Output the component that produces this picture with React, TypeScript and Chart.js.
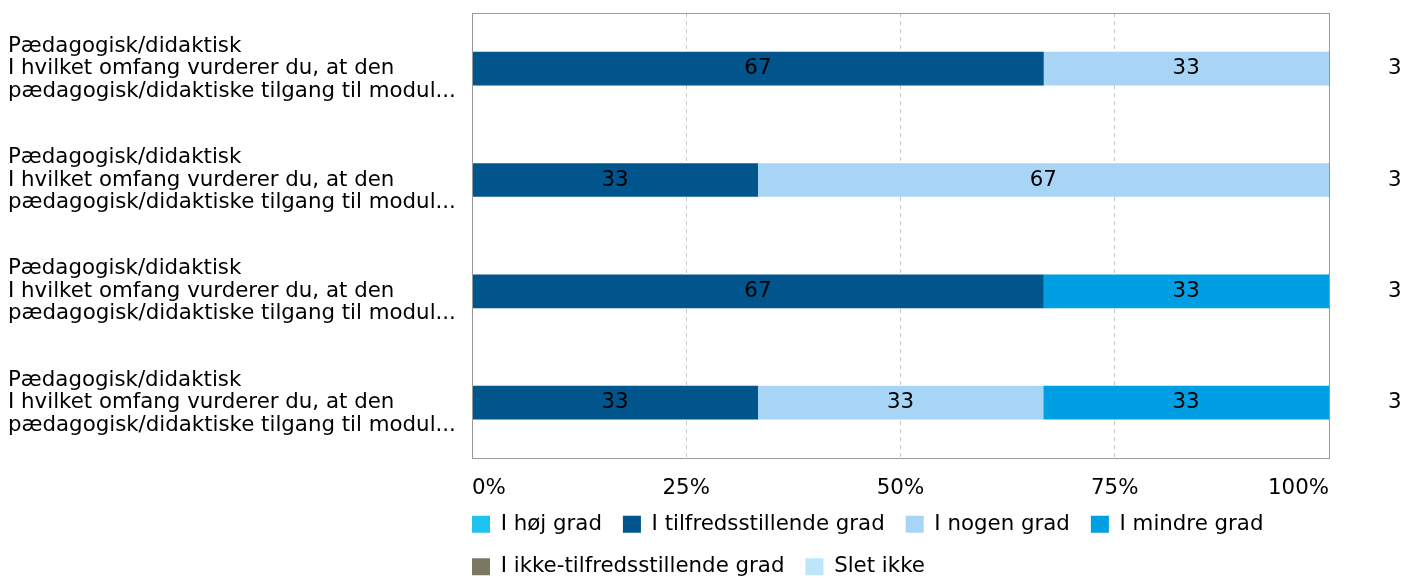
import React, { useEffect, useRef } from "react";
import { Chart, registerables } from "chart.js";

Chart.register(...registerables);

const categories: string[][] = [
  ["Pædagogisk/didaktisk", "I hvilket omfang vurderer du, at den", "pædagogisk/didaktiske tilgang til modul..."],
  ["Pædagogisk/didaktisk", "I hvilket omfang vurderer du, at den", "pædagogisk/didaktiske tilgang til modul..."],
  ["Pædagogisk/didaktisk", "I hvilket omfang vurderer du, at den", "pædagogisk/didaktiske tilgang til modul..."],
  ["Pædagogisk/didaktisk", "I hvilket omfang vurderer du, at den", "pædagogisk/didaktiske tilgang til modul..."],
];
const respondentCounts: string[] = ["3", "3", "3", "3"];

const seriesNames: string[] = [
  "I høj grad",
  "I tilfredsstillende grad",
  "I nogen grad",
  "I mindre grad",
  "I ikke-tilfredsstillende grad",
  "Slet ikke",
];
const seriesColors: string[] = ["#1EC3F0", "#00558C", "#A8D4F5", "#009EE2", "#7A7763", "#BDE6FA"];

const hojGrad: number[] = [0, 0, 0, 0];
const tilfredsstillendeGrad: number[] = [66.67, 33.33, 66.67, 33.33];
const nogenGrad: number[] = [33.33, 66.67, 0, 33.33];
const mindreGrad: number[] = [0, 0, 33.33, 33.33];
const ikkeTilfredsstillendeGrad: number[] = [0, 0, 0, 0];
const sletIkke: number[] = [0, 0, 0, 0];
const seriesValues: number[][] = [hojGrad, tilfredsstillendeGrad, nogenGrad, mindreGrad, ikkeTilfredsstillendeGrad, sletIkke];

const xTicks: number[] = [0, 25, 50, 75, 100];

const FONT = '"DejaVu Sans", Verdana, sans-serif';
const FS = 21.33;
const LEGEND_PAD = 21;
const LEGEND_DY = 11.7;

const valueLabels = {
  id: "valueLabels",
  afterDatasetsDraw(chart: any) {
    const ctx = chart.ctx;
    ctx.save();
    ctx.font = `${FS}px ${FONT}`;
    ctx.fillStyle = "#000";
    ctx.textAlign = "center";
    ctx.textBaseline = "middle";
    chart.data.datasets.forEach((ds: any, di: number) => {
      const meta = chart.getDatasetMeta(di);
      if (meta.hidden) return;
      meta.data.forEach((el: any, i: number) => {
        const v = ds.data[i];
        if (!v) return;
        const p = el.getCenterPoint();
        ctx.fillText(String(Math.round(v)), p.x, p.y);
      });
    });
    ctx.restore();
  },
};

const frame = {
  id: "frame",
  afterDatasetsDraw(chart: any) {
    const { left, top, right, bottom } = chart.chartArea;
    const ctx = chart.ctx;
    ctx.save();
    ctx.strokeStyle = "#9a9a9a";
    ctx.lineWidth = 1;
    ctx.strokeRect(Math.round(left) + 0.5, Math.round(top) + 0.5, Math.round(right - left), Math.round(bottom - top));
    ctx.restore();
  },
};

const legendShift = {
  id: "legendShift",
  afterLayout(chart: any) {
    const l = chart.legend;
    if (l) {
      l.left -= LEGEND_PAD;
      l.right -= LEGEND_PAD;
      l.top -= LEGEND_DY;
      l.bottom -= LEGEND_DY;
    }
  },
};

export default function App() {
  const ref = useRef<HTMLCanvasElement | null>(null);
  useEffect(() => {
    document.documentElement.style.overflow = "hidden";
    document.body.style.overflow = "hidden";
    if (!ref.current) return;
    const chart = new Chart(ref.current, {
      type: "bar",
      data: {
        labels: categories,
        datasets: seriesNames.map((name, i) => ({
          label: name,
          data: seriesValues[i],
          backgroundColor: seriesColors[i],
          borderWidth: 0,
          barThickness: 33,
        })),
      },
      options: {
        indexAxis: "y",
        animation: false,
        responsive: true,
        maintainAspectRatio: false,
        layout: { padding: { top: 5, right: 0, left: 0, bottom: 0 } },
        font: { family: FONT, size: FS },
        plugins: {
          tooltip: { enabled: false },
          legend: {
            position: "bottom",
            align: "start",
            fullSize: false,
            labels: {
              boxWidth: 18,
              boxHeight: 17,
              padding: LEGEND_PAD,
              color: "#000",
              font: { family: FONT, size: FS },
            },
          },
        },
        scales: {
          x: {
            type: "linear",
            stacked: true,
            min: 0,
            max: 100,
            afterBuildTicks: (axis: any) => {
              axis.ticks = xTicks.map((v) => ({ value: v }));
            },
            ticks: {
              align: "inner",
              padding: 25.7,
              color: "#000",
              font: { family: FONT, size: FS, lineHeight: 0.4 },
              callback: (v: any) => `${v}%`,
            },
            grid: { color: "#c8c8c8", drawTicks: false, lineWidth: 1 },
            border: { display: false, dash: [4, 4] },
            afterFit: (axis: any) => {
              axis.height = 34.3 + LEGEND_DY;
            },
          },
          y: {
            type: "category",
            stacked: true,
            position: "left",
            ticks: {
              crossAlign: "far",
              padding: 0,
              color: "#000",
              font: { family: FONT, size: FS, lineHeight: 1.055 },
            },
            grid: { display: false, drawTicks: false },
            border: { display: false },
            afterFit: (axis: any) => {
              axis.width = 464;
              axis.paddingTop = 0;
              axis.paddingBottom = 0;
            },
          },
          y2: {
            type: "category",
            position: "right",
            labels: respondentCounts,
            offset: true,
            ticks: {
              padding: 0,
              color: "#000",
              font: { family: FONT, size: FS },
            },
            grid: { display: false, drawTicks: true, tickLength: 59 },
            border: { display: false },
            afterFit: (axis: any) => {
              axis.width = 81;
              axis.paddingTop = 0;
              axis.paddingBottom = 0;
            },
          },
        },
      } as any,
      plugins: [valueLabels, frame, legendShift],
    });
    return () => chart.destroy();
  }, []);
  return (
    <div style={{ position: "relative", width: "100%", height: "591px" }}>
      <canvas ref={ref} />
    </div>
  );
}
